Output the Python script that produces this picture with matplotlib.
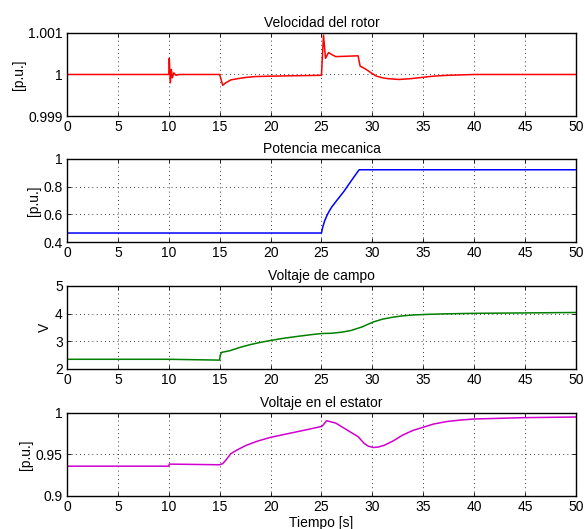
import matplotlib
matplotlib.use("Agg")
import matplotlib.pyplot as plt

# datos
t_vel = [0, 10, 10.05, 10.15, 10.25, 10.35, 10.5, 10.7, 11, 15, 15.3, 15.6, 16.1, 16.8, 17.6,
         18.5, 20, 25, 25.2, 25.4, 25.7, 26.0, 26.4, 28.6, 28.8, 29.2, 29.7, 30.0, 30.4, 31.0,
         31.5, 32.6, 33.8, 34.9, 36.0, 37.4, 40, 50]
vel = [1.0, 1.0, 1.00039, 0.9998, 1.00012, 0.99992, 1.00004, 0.99998, 1.0, 1.0, 0.99974,
       0.9998, 0.99987, 0.9999, 0.99993, 0.99995, 0.99996, 0.99998, 1.00095, 1.00039, 1.00053,
       1.00048, 1.00043, 1.00045, 1.0002, 1.00015, 1.00007, 1.00002, 0.99996, 0.99992, 0.9999,
       0.99988, 0.9999, 0.99993, 0.99996, 0.99998, 1.0, 1.0]

t_pm = [0, 25, 25.1, 25.3, 25.5, 25.7, 26, 26.5, 27.2, 28, 28.7, 50]
pm = [0.465, 0.465, 0.5, 0.55, 0.585, 0.615, 0.652, 0.7, 0.765, 0.85, 0.922, 0.922]

t_vf = [0, 10, 15, 15.05, 15.2, 16, 17, 18, 19, 20, 21.3, 22.7, 24, 25, 26, 27, 27.9, 29,
        29.6, 30.1, 31, 32, 33, 34, 35.2, 37, 40, 50]
vf = [2.35, 2.35, 2.32, 2.5, 2.6, 2.66, 2.78, 2.88, 2.96, 3.03, 3.11, 3.18, 3.24, 3.28, 3.29,
      3.33, 3.39, 3.52, 3.62, 3.70, 3.80, 3.87, 3.92, 3.95, 3.97, 3.99, 4.01, 4.04]

t_ve = [0, 10, 10.05, 15, 15.3, 15.6, 16.1, 16.8, 17.6, 18.7, 20, 21.3, 22.7, 24, 25, 25.1,
        25.5, 26.4, 28.6, 29.2, 29.6, 30.1, 30.6, 31.2, 32, 33, 34, 34.9, 36, 37.4, 38.7, 40,
        44.8, 50]
ve = [0.9359, 0.9359, 0.9384, 0.9376, 0.939, 0.943, 0.951, 0.956, 0.961, 0.966, 0.9706, 0.974,
      0.9776, 0.981, 0.9837, 0.9845, 0.9906, 0.9878, 0.9714, 0.9633, 0.960, 0.9584, 0.959,
      0.9612, 0.966, 0.9735, 0.979, 0.9824, 0.9866, 0.9898, 0.9915, 0.9927, 0.9943, 0.9951]

plt.rcParams['font.family'] = ['Liberation Sans', 'DejaVu Sans']
plt.rcParams['font.size'] = 10

fig = plt.figure(figsize=(5.85, 5.29), dpi=100)

paneles = [
    (t_vel, vel, '#ff0000', 'Velocidad del rotor', '[p.u.]', (0.999, 1.001), [0.999, 1, 1.001], ['0.999', '1', '1.001']),
    (t_pm, pm, '#0000ff', 'Potencia mecanica', '[p.u.]', (0.4, 1), [0.4, 0.6, 0.8, 1], ['0.4', '0.6', '0.8', '1']),
    (t_vf, vf, '#008000', 'Voltaje de campo', 'V', (2, 5), [2, 3, 4, 5], ['2', '3', '4', '5']),
    (t_ve, ve, '#d000d0', 'Voltaje en el estator', '[p.u.]', (0.9, 1), [0.9, 0.95, 1], ['0.9', '0.95', '1']),
]
bottoms = [0.7807, 0.5425, 0.3025, 0.0624]

for (t, y, c, titulo, ylab, ylim, yt, ytl), b in zip(paneles, bottoms):
    ax = fig.add_axes([0.1145, b, 0.870, 0.157])
    ax.plot(t, y, color=c, lw=1.1)
    ax.set_xlim(0, 50)
    ax.set_ylim(*ylim)
    ax.set_xticks(range(0, 51, 5))
    ax.set_yticks(yt)
    ax.set_yticklabels(ytl)
    ax.set_title(titulo, fontsize=10, pad=4)
    ax.set_ylabel(ylab, fontsize=10, labelpad=2)
    ax.grid(True, color='k', linestyle=(0, (1, 4)), linewidth=0.6)
    ax.tick_params(direction='in', top=True, right=True, length=3, width=0.6, pad=3)
    for s in ax.spines.values():
        s.set_linewidth(1.0)
    if b == bottoms[-1]:
        ax.set_xlabel('Tiempo [s]', fontsize=10, labelpad=1)

fig.savefig('out.png', dpi=100)
